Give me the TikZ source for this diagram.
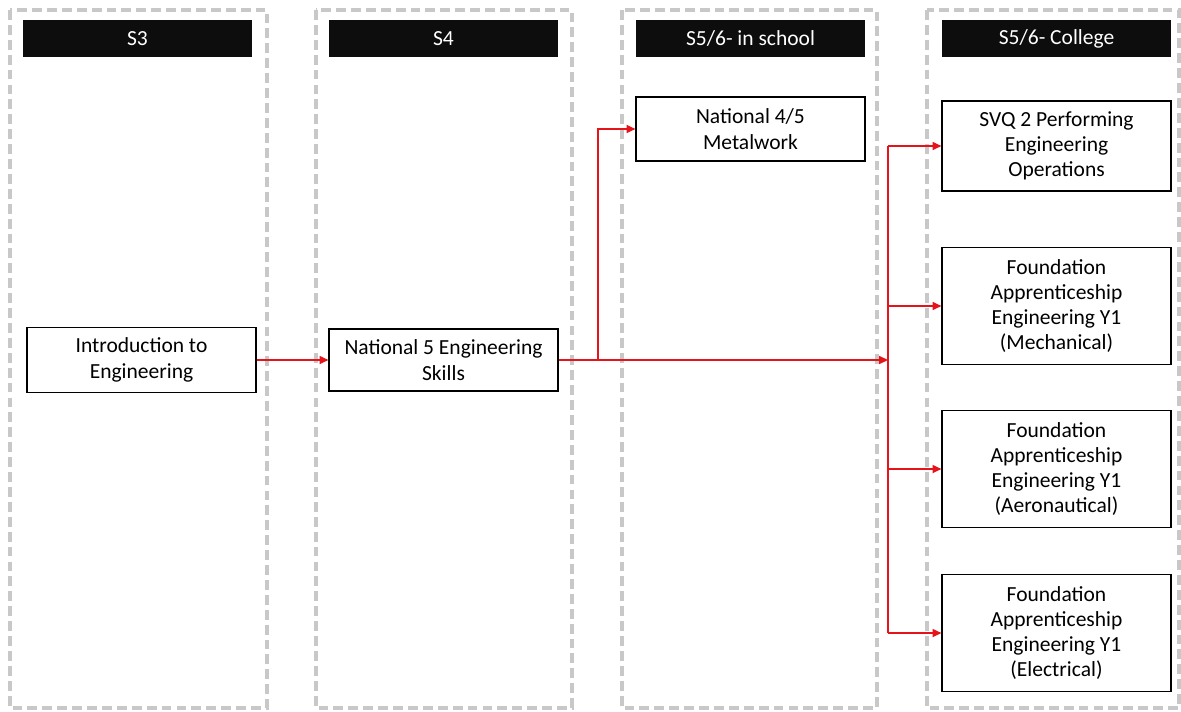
\documentclass[tikz,border=0pt]{standalone}
\usepackage{fontspec}
\setmainfont{Carlito}
\usepackage{tikz}
\usetikzlibrary{arrows.meta, positioning, calc}
\definecolor{lanegrey}{HTML}{C8C8C8}
\definecolor{headblack}{HTML}{0D0D0D}
\definecolor{linkred}{HTML}{E5141B}

\begin{document}
\begin{tikzpicture}[
    x=0.025cm, y=-0.025cm,
    lane/.style={draw=lanegrey, line width=2.2pt, dash pattern=on 7pt off 3.6pt},
    head/.style={rectangle, fill=headblack, text=white, minimum width=5.725cm, minimum height=0.925cm, inner sep=0pt, font=\fontsize{15.3}{18}\selectfont},
    block/.style={rectangle, draw, fill=white, line width=0.8pt, minimum width=5.725cm, align=center, inner sep=0pt, font=\fontsize{15.3}{18}\selectfont},
    arr/.style={-{Triangle[length=2.2mm, width=2mm]}, linkred, line width=0.9pt}
]
\useasboundingbox (0,0) rectangle (1181,711);

% lanes
\draw[lane] (10,10) rectangle (267,708);
\draw[lane] (316,10) rectangle (572,708);
\draw[lane] (622,10) rectangle (877,708);
\draw[lane] (927,10) rectangle (1179,708);

% headers
\node[head] (hs3) at (137.5,38.5) {S3};
\node[head] (hs4) at (443.5,38.5) {S4};
\node[head] (hschool) at (750.5,38.5) {S5/6- in school};
\node[head] (hcollege) at (1056.5,38.5) {S5/6- College};

% courses
\node[block, minimum height=1.625cm] (intro) at (141.5,360) {Introduction to\\Engineering};
\node[block, minimum height=1.55cm] (nat5) at (443.5,360) {National 5 Engineering\\Skills};
\node[block, minimum height=1.6cm] (metal) at (750.5,129) {National 4/5\\Metalwork};
\node[block, minimum height=2.25cm] (svq) at (1056.5,146) {SVQ 2 Performing\\Engineering\\Operations};
\node[block, minimum height=2.925cm] (mech) at (1056.5,306) {Foundation\\Apprenticeship\\Engineering Y1\\(Mechanical)};
\node[block, minimum height=2.925cm] (aero) at (1056.5,469) {Foundation\\Apprenticeship\\Engineering Y1\\(Aeronautical)};
\node[block, minimum height=2.925cm] (elec) at (1056.5,633) {Foundation\\Apprenticeship\\Engineering Y1\\(Electrical)};

\coordinate (fork) at (598,360);
\coordinate (hub) at (888,360);

% links
\draw[arr] (intro) -- (nat5);
\draw[arr] (nat5.east) -- (hub);
\draw[arr] (fork) |- (metal.west);
\draw[linkred, line width=0.9pt] (svq.west -| hub) -- (elec.west -| hub);
\foreach \b in {svq, mech, aero, elec}
    \draw[arr] (\b.west -| hub) -- (\b.west);
\end{tikzpicture}
\end{document}
